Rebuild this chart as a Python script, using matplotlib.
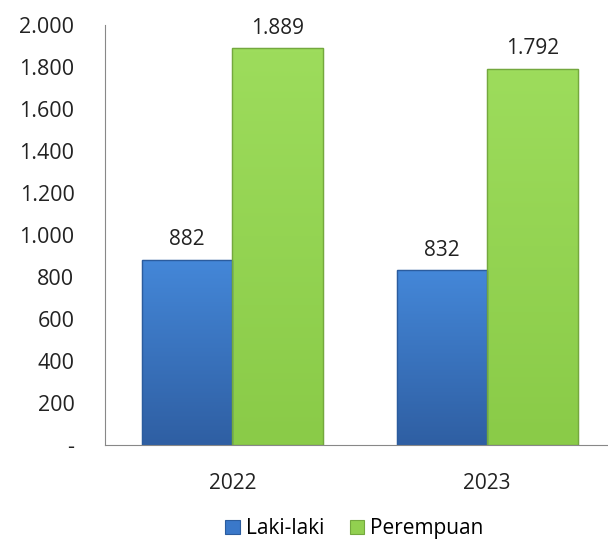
import matplotlib.pyplot as plt
import numpy as np
from matplotlib.colors import LinearSegmentedColormap

# Data
tahun = ["2022", "2023"]
laki_laki = [882, 832]
perempuan = [1889, 1792]
y_ticks = [0, 200, 400, 600, 800, 1000, 1200, 1400, 1600, 1800, 2000]

plt.rcParams['font.family'] = ['Open Sans', 'DejaVu Sans']


def fmt(v):
    # thousands separator as a dot, zero shown as a dash
    if v == 0:
        return "-"
    return f"{v:,.0f}".replace(",", ".")


def shade(ax, bars, dark, light):
    # vertical gradient inside each bar, lighter at the top
    cmap = LinearSegmentedColormap.from_list("g", [dark, light])
    grad = np.linspace(0, 1, 64)[:, None]
    for b in bars:
        x0, y0 = b.get_x(), b.get_y()
        w, h = b.get_width(), b.get_height()
        im = ax.imshow(grad, cmap=cmap, aspect="auto", extent=(x0, x0 + w, y0, y0 + h),
                       origin="lower", zorder=b.get_zorder() + 0.1, interpolation="bicubic")
        im.set_clip_path(b)
        # thin edge drawn over the gradient
        ax.add_patch(plt.Rectangle((x0, y0), w, h, fill=False, edgecolor=b.get_edgecolor(),
                                   linewidth=1.0, zorder=b.get_zorder() + 0.2))


fig = plt.figure(figsize=(6.08, 5.39), dpi=100)
ax = fig.add_axes([0.1727, 0.1744, 0.838, 0.7792])

x = np.arange(len(tahun))
w = 0.355
b1 = ax.bar(x - w / 2, laki_laki, w, color="#3a78c9", edgecolor="#2b5c9e", linewidth=0.8,
            label="Laki-laki", zorder=2)
b2 = ax.bar(x + w / 2, perempuan, w, color="#92d050", edgecolor="#74a83e", linewidth=0.8,
            label="Perempuan", zorder=2)
shade(ax, b1, "#2f5fa3", "#4487d8")
shade(ax, b2, "#8acb48", "#9ddc5c")

for bars, vals in ((b1, laki_laki), (b2, perempuan)):
    for b, v in zip(bars, vals):
        ax.text(b.get_x() + b.get_width() / 2, v + 45, fmt(v), ha="center", va="bottom",
                fontsize=15, color="#222222")

ax.set_xlim(-0.5, 1.5)
ax.set_ylim(0, 2000)
ax.set_yticks(y_ticks)
ax.set_yticklabels([fmt(v) for v in y_ticks], fontsize=15.5, color="#222222")
ax.set_xticks(x)
ax.set_xticklabels(tahun, fontsize=15, color="#222222")
ax.tick_params(axis="both", length=0)
ax.tick_params(axis="x", pad=20)
ax.tick_params(axis="y", pad=22)

for s in ("top", "right"):
    ax.spines[s].set_visible(False)
ax.spines["left"].set_color("#888888")
ax.spines["bottom"].set_color("#888888")

ax.legend(loc="center", bbox_to_anchor=(0.49, -0.2), ncol=2, frameon=False,
          fontsize=15, handlelength=0.7, handleheight=0.7, handletextpad=0.3,
          columnspacing=1.2)

plt.savefig("out.png", dpi=100)
